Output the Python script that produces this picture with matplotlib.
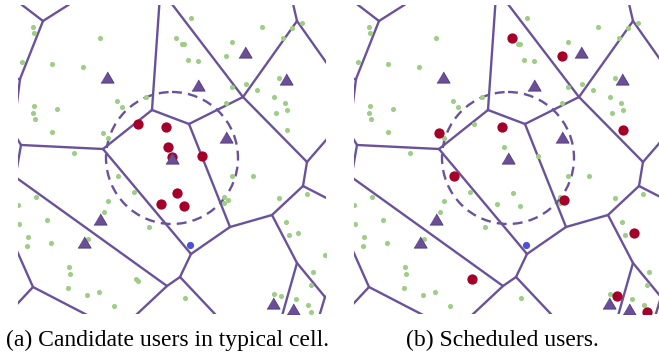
import matplotlib
matplotlib.use("Agg")

import numpy as np
import matplotlib.pyplot as plt
from matplotlib.collections import LineCollection
from matplotlib.patches import Circle

# region shown in both panels (same units as the layout below)
x_lim = (17.5, 326.0)
y_lim = (314.0, 5.0)

# base stations
bs_x = [107, 245, 198, 286, 226, 172, 100, 84, 273, 293]
bs_y = [77, 52, 85, 79, 137, 158, 219, 242, 303, 309]
typical_bs = 5
cell_radius = 66

# cell boundaries: vertices (some lie outside the view) and edges
vor_x = [43, 20, 152, 103, 189, 243, 230, 297, 307, 303, 272, 297, 191, 180, 167, 21, 33, 325,
         9, 84, 5, 15, 160, 165, 291, 340, 340, 340, 278, 315, 345, 230, 0, 120, 9, 14, 5, 5, 116]
vor_y = [21, 79, 110, 149, 124, 97, 227, 21, 162, 186, 215, 263, 254, 277, 286, 145, 287, 297,
         -5, -5, 79, 119, -5, -5, -5, 82, 124, 205, 330, 330, 290, 330, 166, 330, 125, 185, 224, 317, 330]
vor_edges = [(0, 18), (0, 19), (0, 1), (1, 20), (1, 21),
             (2, 22), (2, 3), (2, 4), (3, 15), (3, 12),
             (4, 5), (4, 6), (5, 23), (5, 7), (5, 8),
             (7, 24), (7, 25), (8, 26), (8, 9), (9, 27), (9, 10),
             (10, 6), (10, 11), (11, 28), (11, 17), (17, 29), (17, 30),
             (6, 12), (12, 13), (13, 14), (13, 31), (14, 32), (14, 33),
             (15, 34), (15, 35), (16, 36), (16, 37), (16, 38)]

# users
user_x = [191, 33, 34, 100, 262, 302, 292, 283, 232, 176, 182, 184, 22, 52, 83, 188, 198, 226,
          279, 232, 246, 257, 274, 285, 287, 276, 226, 117, 122, 146, 34, 57, 33, 35, 52, 103,
          108, 287, 74, 118, 134, 108, 104, 149, 36, 18, 47, 19, 28, 27, 51, 88, 69, 70, 68,
          87, 99, 114, 136, 138, 185, 232, 253, 224, 228, 224, 279, 307, 286, 289, 298, 325,
          313, 311, 274, 281, 296, 308, 311,
          138, 166, 168, 202, 177, 161, 184, 172]
user_y = [18, 27, 33, 38, 27, 23, 28, 38, 42, 38, 44, 44, 62, 64, 67, 60, 61, 56,
          78, 87, 84, 90, 97, 103, 110, 113, 103, 101, 107, 97, 106, 109, 113, 119, 132, 133,
          138, 130, 153, 176, 192, 201, 212, 227, 197, 205, 220, 224, 237, 246, 243, 239, 267, 274, 288,
          295, 292, 306, 279, 281, 298, 176, 176, 197, 200, 203, 198, 194, 222, 235, 233, 255,
          272, 285, 294, 296, 299, 305, 312,
          124, 127, 147, 156, 193, 204, 206, 157]
candidates = [79, 80, 81, 82, 83, 84, 85, 86]
scheduled = [9, 17, 35, 37, 39, 58, 64, 70, 75, 78, 80]

# typical user
typ_x, typ_y = 190, 245

captions = ["(a) Candidate users in typical cell.", "(b) Scheduled users."]
caption_x = [167, 502]

line_color = "#6a529b"
bs_color = "#6a4f96"
red = "#a5002a"
green = "#9fcd88"
blue = "#4c52d8"

W, H = 659, 358
fig = plt.figure(figsize=(W / 100, H / 100), dpi=100)

ux = np.array(user_x)
uy = np.array(user_y)
segs = [[(vor_x[a], vor_y[a]), (vor_x[b], vor_y[b])] for a, b in vor_edges]
tri = [(-1, -0.85), (1, -0.85), (0, 0.85)]

for k, highlight in enumerate([candidates, scheduled]):
    left = x_lim[0] + k * 336
    ax = fig.add_axes([left / W, (H - y_lim[0]) / H,
                       (x_lim[1] - x_lim[0]) / W, (y_lim[0] - y_lim[1]) / H])
    ax.set_xlim(*x_lim)
    ax.set_ylim(*y_lim)
    ax.axis("off")

    ax.add_collection(LineCollection(segs, colors=line_color, linewidths=1.7,
                                     capstyle="round", zorder=1))
    ax.add_patch(Circle((bs_x[typical_bs], bs_y[typical_bs]), cell_radius, fill=False,
                        edgecolor=line_color, linewidth=1.7,
                        linestyle=(0, (4.2, 2.6)), zorder=1))

    mask = np.zeros(len(ux), dtype=bool)
    mask[highlight] = True
    ax.plot(ux[~mask], uy[~mask], "o", color=green, ms=3.7, mew=0, zorder=2)
    ax.plot(ux[mask], uy[mask], "o", color=red, ms=7.4, mew=0, zorder=3)
    ax.plot(typ_x, typ_y, "o", color=blue, ms=5.2, mew=0, zorder=3)
    ax.plot(bs_x, bs_y, linestyle="none", marker=tri, color=bs_color, ms=9.5,
            mec="#4d3876", mew=0.6, zorder=4)

    fig.text(caption_x[k] / W, (H - 340) / H, captions[k], ha="center", va="center",
             family="Liberation Serif", fontsize=17)

fig.savefig("out.png", dpi=100)
